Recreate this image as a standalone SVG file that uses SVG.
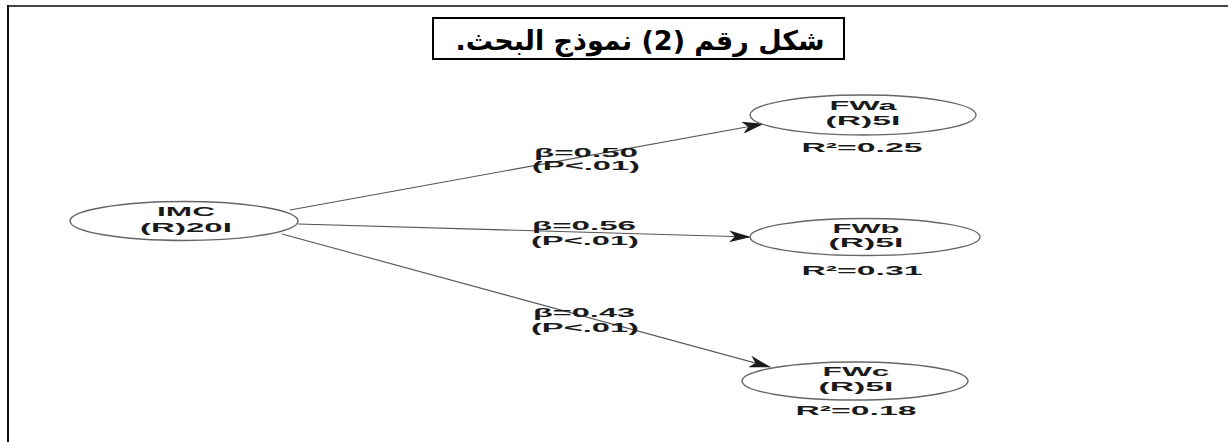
<svg xmlns="http://www.w3.org/2000/svg" width="1228" height="442" viewBox="0 0 1228 442">
<style>
.node ellipse{fill:#fff;stroke:#666;stroke-width:1.4}
.t{font-family:"Liberation Sans",Arial,sans-serif;font-weight:bold;font-size:13px;fill:#1a1a1a;text-anchor:middle}
.lbl{font-family:"Liberation Sans",Arial,sans-serif;font-weight:bold;font-size:13px;fill:#1a1a1a;text-anchor:middle}
.edge{stroke:#555;stroke-width:1.1;fill:none;marker-end:url(#ah)}
</style>
<defs>
<marker id="ah" markerWidth="22" markerHeight="12" refX="21" refY="6" orient="auto" markerUnits="userSpaceOnUse">
<path d="M0,0 L22,6 L0,12 L6,6 z" fill="#1a1a1a"/>
</marker>
</defs>
<rect width="1228" height="442" fill="#fff"/>
<g id="frame">
<line x1="8" y1="6" x2="1228" y2="6" stroke="#444" stroke-width="2"/>
<line x1="8" y1="5" x2="8" y2="442" stroke="#111" stroke-width="2"/>
</g>
<g id="title">
<rect x="433" y="18" width="411" height="41" fill="#fff" stroke="#000" stroke-width="2"/>
<text x="640" y="50" font-family="'DejaVu Sans',sans-serif" font-weight="bold" font-size="27" text-anchor="middle" direction="rtl" fill="#000">شكل رقم (2) نموذج البحث.</text>
</g>
<g id="connectors">
<line class="edge" x1="290" y1="210" x2="763" y2="124"/>
<line class="edge" x1="298" y1="224" x2="750" y2="237"/>
<line class="edge" x1="282" y1="234" x2="770" y2="367"/>
<text class="lbl" x="586" y="157" textLength="104" lengthAdjust="spacingAndGlyphs">β=0.50</text>
<text class="lbl" x="586" y="170" textLength="108" lengthAdjust="spacingAndGlyphs">(P&lt;.01)</text>
<text class="lbl" x="584" y="230" textLength="104" lengthAdjust="spacingAndGlyphs">β=0.56</text>
<text class="lbl" x="585" y="245" textLength="108" lengthAdjust="spacingAndGlyphs">(P&lt;.01)</text>
<text class="lbl" x="584" y="317" textLength="102" lengthAdjust="spacingAndGlyphs">β=0.43</text>
<text class="lbl" x="585" y="332" textLength="108" lengthAdjust="spacingAndGlyphs">(P&lt;.01)</text>
</g>
<g id="IMC" class="node">
<ellipse cx="184" cy="221" rx="114" ry="19.5"/>
<text class="t" x="186" y="216" textLength="58" lengthAdjust="spacingAndGlyphs">IMC</text>
<text class="t" x="186" y="232" textLength="92" lengthAdjust="spacingAndGlyphs">(R)20I</text>
</g>
<g id="FWa" class="node">
<ellipse cx="863" cy="115" rx="113" ry="20"/>
<text class="t" x="863" y="110" textLength="67" lengthAdjust="spacingAndGlyphs">FWa</text>
<text class="t" x="863" y="125" textLength="75" lengthAdjust="spacingAndGlyphs">(R)5I</text>
<text class="t" x="862" y="152" textLength="121" lengthAdjust="spacingAndGlyphs">R²=0.25</text>
</g>
<g id="FWb" class="node">
<ellipse cx="865" cy="237" rx="115" ry="18.5"/>
<text class="t" x="866" y="233" textLength="67" lengthAdjust="spacingAndGlyphs">FWb</text>
<text class="t" x="866" y="247" textLength="75" lengthAdjust="spacingAndGlyphs">(R)5I</text>
<text class="t" x="862" y="275" textLength="121" lengthAdjust="spacingAndGlyphs">R²=0.31</text>
</g>
<g id="FWc" class="node">
<ellipse cx="855" cy="381" rx="113" ry="19"/>
<text class="t" x="856" y="376" textLength="67" lengthAdjust="spacingAndGlyphs">FWc</text>
<text class="t" x="856" y="391" textLength="75" lengthAdjust="spacingAndGlyphs">(R)5I</text>
<text class="t" x="856" y="415" textLength="121" lengthAdjust="spacingAndGlyphs">R²=0.18</text>
</g>
</svg>
